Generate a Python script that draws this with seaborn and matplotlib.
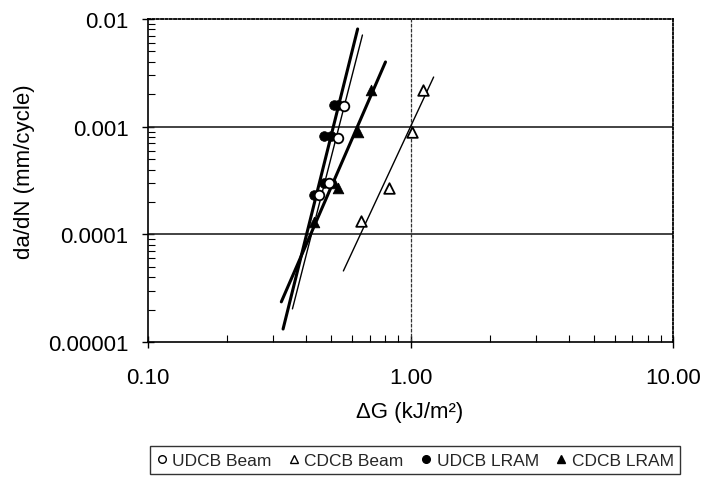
import numpy as np
import pandas as pd
import matplotlib
matplotlib.use("Agg")
import matplotlib.pyplot as plt
from matplotlib.lines import Line2D
from matplotlib.ticker import FixedLocator, LogLocator, NullFormatter
import seaborn as sns

sns.set_theme(style="white")
plt.rcParams["font.family"] = ["Liberation Sans", "DejaVu Sans"]

# Measured crack growth rates, da/dN (mm/cycle) vs. strain energy release rate range (kJ/m^2)
udcb_beam_g = [0.56, 0.53, 0.49, 0.45]
udcb_beam_r = [0.00156, 0.00079, 0.00030, 0.00023]

cdcb_beam_g = [1.12, 1.01, 0.83, 0.65]
cdcb_beam_r = [0.00219, 0.00089, 0.00027, 0.000133]

udcb_lram_g = [0.51, 0.53, 0.47, 0.50, 0.47, 0.43]
udcb_lram_r = [0.00158, 0.00158, 0.00082, 0.00082, 0.00030, 0.00023]

cdcb_lram_g = [0.71, 0.63, 0.53, 0.51, 0.43]
cdcb_lram_r = [0.00219, 0.00089, 0.00027, 0.00030, 0.00013]

# Power-law trend lines (end points)
fit_udcb_lram_g = [0.327, 0.629]
fit_udcb_lram_r = [1.32e-5, 8.08e-3]
fit_udcb_beam_g = [0.355, 0.656]
fit_udcb_beam_r = [2.03e-5, 7.1e-3]
fit_cdcb_lram_g = [0.322, 0.803]
fit_cdcb_lram_r = [2.36e-5, 3.99e-3]
fit_cdcb_beam_g = [0.555, 1.225]
fit_cdcb_beam_r = [4.57e-5, 2.89e-3]

x_ticks = [0.1, 1.0, 10.0]
x_ticklabels = ["0.10", "1.00", "10.00"]
y_ticks = [1e-5, 1e-4, 1e-3, 1e-2]
y_ticklabels = ["0.00001", "0.0001", "0.001", "0.01"]

fig = plt.figure(figsize=(7.03, 4.81), dpi=100)
ax = fig.add_axes([148 / 703, 1 - 343 / 481, (673 - 148) / 703, (343 - 20) / 481])
ax.set_xscale("log")
ax.set_yscale("log")
ax.set_xlim(0.1, 10)
ax.set_ylim(1e-5, 1e-2)

# Grid lines
for yv in [1e-4, 1e-3]:
    ax.axhline(yv, color="#222222", lw=1.2, zorder=1)
ax.axvline(1.0, color="#333333", lw=0.9, ls=(0, (3, 1)), zorder=1)

# Trend lines
fits = [
    (fit_udcb_lram_g, fit_udcb_lram_r, 2.2),
    (fit_udcb_beam_g, fit_udcb_beam_r, 1.0),
    (fit_cdcb_lram_g, fit_cdcb_lram_r, 2.2),
    (fit_cdcb_beam_g, fit_cdcb_beam_r, 1.0),
]
for gx, ry, lw in fits:
    sns.lineplot(x=gx, y=ry, ax=ax, color="black", lw=lw, zorder=2,
                 estimator=None, sort=False, legend=False)

ms = 48
sns.scatterplot(x=udcb_lram_g, y=udcb_lram_r, ax=ax, marker="o", s=ms,
                color="black", edgecolor="black", zorder=3, legend=False)
sns.scatterplot(x=cdcb_lram_g, y=cdcb_lram_r, ax=ax, marker="^", s=ms + 10,
                color="black", edgecolor="black", zorder=3, legend=False)
sns.scatterplot(x=udcb_beam_g, y=udcb_beam_r, ax=ax, marker="o", s=ms,
                facecolor="white", edgecolor="black", linewidth=1.3, zorder=4, legend=False)
sns.scatterplot(x=cdcb_beam_g, y=cdcb_beam_r, ax=ax, marker="^", s=ms + 10,
                facecolor="white", edgecolor="black", linewidth=1.3, zorder=4, legend=False)

# Axes styling
ax.xaxis.set_major_locator(FixedLocator(x_ticks))
ax.set_xticklabels(x_ticklabels)
ax.yaxis.set_major_locator(FixedLocator(y_ticks))
ax.set_yticklabels(y_ticklabels)
ax.xaxis.set_minor_locator(LogLocator(base=10, subs=np.arange(2, 10)))
ax.yaxis.set_minor_locator(LogLocator(base=10, subs=np.arange(2, 10)))
ax.xaxis.set_minor_formatter(NullFormatter())
ax.yaxis.set_minor_formatter(NullFormatter())
ax.tick_params(axis="both", which="major", direction="inout", length=8, width=1,
               color="black", labelsize=16, labelcolor="black")
ax.tick_params(axis="both", which="minor", direction="in", length=5, width=0.8,
               color="black")
ax.tick_params(axis="y", which="major", pad=10)
ax.tick_params(axis="x", which="major", pad=14)
ax.tick_params(bottom=True, left=True, which="both")

for side in ["left", "bottom"]:
    ax.spines[side].set_color("black")
    ax.spines[side].set_linewidth(1.2)
for side in ["top", "right"]:
    ax.spines[side].set_color("black")
    ax.spines[side].set_linewidth(1.3)
    ax.spines[side].set_linestyle((0, (1.2, 1.2)))

ax.set_xlabel("\u0394G (kJ/m\u00b2)", fontsize=16, color="black")
ax.set_ylabel("da/dN (mm/cycle)", fontsize=16, color="black")
ax.xaxis.set_label_coords((410 - 148) / 525, (343 - 402) / 323)
ax.yaxis.set_label_coords((35 - 148) / 525, (343 - 172) / 323)

handles = [
    Line2D([], [], ls="none", marker="o", ms=5.5, mfc="white", mec="black", mew=1.0),
    Line2D([], [], ls="none", marker="^", ms=6, mfc="white", mec="black", mew=1.0),
    Line2D([], [], ls="none", marker="o", ms=5.5, mfc="black", mec="black"),
    Line2D([], [], ls="none", marker="^", ms=6, mfc="black", mec="black"),
]
labels = ["UDCB Beam", "CDCB Beam", "UDCB LRAM", "CDCB LRAM"]
leg = fig.legend(handles, labels, loc="center", bbox_to_anchor=(415 / 703, 1 - 461 / 481),
                 ncol=4, frameon=True, fancybox=False, fontsize=12.5,
                 handlelength=0.6, handletextpad=0.3, columnspacing=1.0,
                 borderpad=0.35, edgecolor="black")
leg.get_frame().set_linewidth(1.0)

fig.savefig("out.png", dpi=100, facecolor="white")
